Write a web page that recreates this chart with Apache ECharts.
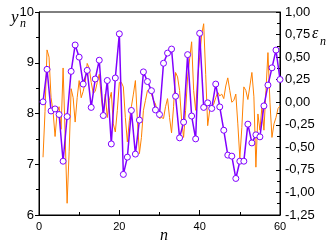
<!DOCTYPE html>
<html>
<head>
<meta charset="utf-8">
<script src="https://cdn.jsdelivr.net/npm/echarts@6/dist/echarts.min.js"></script>
<style>
  html, body { margin: 0; padding: 0; background: #fff; }
  #chart { width: 332px; height: 245px; }
</style>
</head>
<body>
<div id="chart"></div>
<script>
// y_n, one value per n = 1..60 (left axis)
var yN = [
  8.23, 8.87, 8.05, 8.09, 7.98, 7.06, 7.94, 8.83, 9.35, 9.11,
  8.58, 8.85, 8.12, 8.68, 9.05, 7.96, 8.65, 7.40, 8.70, 9.57,
  6.80, 7.14, 8.06, 7.20, 7.87, 8.82, 8.63, 8.45, 8.07, 7.98,
  8.99, 9.19, 9.27, 8.34, 7.52, 7.83, 9.16, 7.95, 7.50, 9.58,
  8.12, 8.21, 8.10, 8.58, 8.13, 7.67, 7.18, 7.16, 6.72, 7.06,
  7.06, 7.79, 7.42, 7.58, 7.54, 8.15, 8.56, 8.90, 9.25, 8.67
];
var nStart = 1;

// eps_n, sampled every half step of n from 1 to 60 (right axis)
var epsN = [
  -0.61, -0.10, 0.58, 0.50, 0.05, -0.10, -0.38, -0.12, -0.05, -0.30,
  0.38, -0.35, -1.12, -0.55, 0.15, 0.05, -0.22, 0.05, 0.24, 0.05,
  0.12, 0.22, 0.43, 0.38, 0.22, 0.10, 0.12, 0.22, 0.31, 0.06,
  -0.13, 0.09, -0.17, 0.02, 0.11, -0.24, -0.33, -0.09, 0.22, 0.22,
  0.17, -0.17, -0.44, -0.20, -0.05, 0.09, 0.24, -0.20, -0.57, -0.39,
  -0.09, 0.02, 0.13, 0.13, 0.09, 0.02, -0.02, -0.11, -0.18, -0.17,
  -0.18, -0.05, 0.04, -0.17, -0.34, -0.05, 0.33, 0.28, 0.13, -0.20,
  -0.39, -0.09, 0.28, 0.48, 0.67, 0.13, -0.09, 0.28, 0.50, 0.75,
  0.87, 0.31, -0.26, -0.09, -0.05, -0.02, 0.05, 0.11, 0.07, 0.09,
  0.04, 0.18, 0.27, 0.13, 0.00, 0.02, 0.09, -0.24, -0.62, -0.28,
  0.17, 0.13, 0.03, 0.18, 0.33, 0.06, -0.72, -0.13, -0.31, -0.05,
  -0.31, 0.13, 0.55, 0.00, -0.39, -0.24, -0.17, -0.07, -0.04
];
var epsStart = 1;
var epsStep = 0.5;

var xTicks = [0, 20, 40, 60];
var yTicks = [6, 7, 8, 9, 10];
var epsTicks = [-1.25, -1.00, -0.75, -0.50, -0.25, 0.00, 0.25, 0.50, 0.75, 1.00];

var purple = "#8000ff";
var orange = "#ff8000";
var font = "'Liberation Sans Narrow', 'Liberation Sans', Arial, sans-serif";
var serif = "'Liberation Serif', serif";

var yData = yN.map(function (v, i) { return [nStart + i, v]; });
var epsData = epsN.map(function (v, i) { return [epsStart + i * epsStep, v]; });

var chart = echarts.init(document.getElementById("chart"), null, { renderer: "canvas" });

var axisLine = { show: true, onZero: false, lineStyle: { color: "#000", width: 1 } };
var labelStyle = { color: "#000", fontSize: 13, fontFamily: font };

chart.setOption({
  animation: false,
  grid: {
    left: 39, right: 52, top: 12, bottom: 30,
    show: true, borderColor: "#000", borderWidth: 1, backgroundColor: "transparent"
  },
  xAxis: {
    type: "value",
    min: xTicks[0], max: xTicks[xTicks.length - 1], interval: 20,
    axisLine: axisLine,
    axisTick: { show: true, inside: true, length: 5, lineStyle: { color: "#000" } },
    minorTick: { show: true, splitNumber: 2, length: 3, lineStyle: { color: "#000" } },
    splitLine: { show: false },
    axisLabel: Object.assign({ margin: 6 }, labelStyle, { fontSize: 11 })
  },
  yAxis: [
    {
      type: "value", position: "left",
      min: yTicks[0], max: yTicks[yTicks.length - 1], interval: 1,
      axisLine: axisLine,
      axisTick: { show: true, inside: false, length: 4, lineStyle: { color: "#000" } },
      minorTick: { show: true, splitNumber: 2, length: 3, lineStyle: { color: "#000" } },
      splitLine: { show: false },
      axisLabel: Object.assign({ margin: 5 }, labelStyle)
    },
    {
      type: "value", position: "right",
      min: epsTicks[0], max: epsTicks[epsTicks.length - 1], interval: 0.25,
      axisLine: axisLine,
      axisTick: { show: true, inside: true, length: 4, lineStyle: { color: "#000" } },
      minorTick: { show: true, splitNumber: 2, length: 3, lineStyle: { color: "#000" } },
      splitLine: { show: false },
      axisLabel: Object.assign({
        margin: 5,
        formatter: function (v) { return v.toFixed(2).replace(".", ","); }
      }, labelStyle)
    }
  ],
  graphic: [
    { type: "text", left: 11, top: 9, style: { text: "y", fontSize: 17, fontStyle: "italic", fontFamily: serif, fill: "#000" } },
    { type: "text", left: 20, top: 18, style: { text: "n", fontSize: 12, fontStyle: "italic", fontFamily: serif, fill: "#000" } },
    { type: "text", left: 312, top: 26, style: { text: "ε", fontSize: 16, fontStyle: "italic", fontFamily: serif, fill: "#000" } },
    { type: "text", left: 320, top: 36, style: { text: "n", fontSize: 12, fontStyle: "italic", fontFamily: serif, fill: "#000" } },
    { type: "text", left: 160, top: 228, style: { text: "n", fontSize: 16, fontStyle: "italic", fontFamily: serif, fill: "#000" } }
  ],
  series: [
    {
      name: "eps",
      type: "line",
      yAxisIndex: 1,
      data: epsData,
      symbol: "none",
      lineStyle: { color: orange, width: 1 },
      z: 2
    },
    {
      name: "y",
      type: "line",
      yAxisIndex: 0,
      data: yData,
      symbol: "circle",
      symbolSize: 6,
      showAllSymbol: true,
      lineStyle: { color: purple, width: 1.5 },
      itemStyle: { color: "#fff", borderColor: purple, borderWidth: 1 },
      z: 3
    }
  ]
});
</script>
</body>
</html>
